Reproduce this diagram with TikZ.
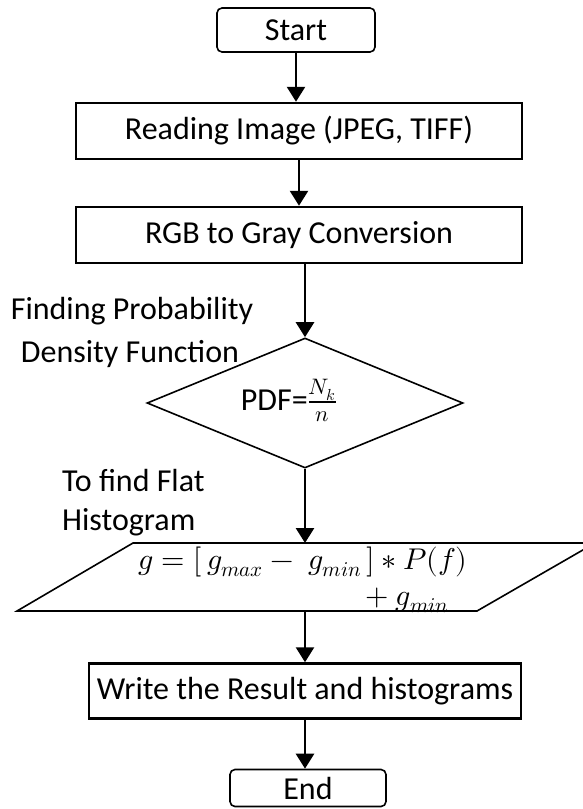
\documentclass[tikz,border=0pt]{standalone}
\usepackage{unicode-math}
\setmainfont{Carlito}
\setmathfont{Latin Modern Math}
\usetikzlibrary{shapes.geometric,arrows.meta}
\tikzset{
  box/.style={draw, line width=2.5pt, inner sep=0pt, font=\fontsize{32}{38}\selectfont},
  term/.style={box, line width=1.6pt, rounded corners=5pt},
  arr/.style={line width=2.6pt, -{Triangle[width=18pt,length=15pt]}},
  lbl/.style={font=\fontsize{32}{42}\selectfont, inner sep=0pt},
  thin/.style={draw, line width=1.6pt},
}
\begin{document}
\begin{tikzpicture}[x=1pt,y=-1pt]
\useasboundingbox (0,0) rectangle (582,809);
\node[term, minimum width=158pt, minimum height=44pt] (start) at (296,30) {Start};
\node[box, minimum width=446pt, minimum height=56pt] (read) at (299,131) {Reading Image (JPEG, TIFF)};
\node[box, minimum width=446pt, minimum height=56pt] (rgb) at (299,235) {RGB to Gray Conversion};
\node[thin, diamond, aspect=2.43, minimum width=316pt, minimum height=130pt, inner sep=0pt] (pdf) at (305,403) {};
\node[font=\fontsize{32}{38}\selectfont, inner sep=0pt, anchor=base] (pdftext) at (289,410) {PDF=$\frac{N_k}{n}$};
\node[lbl, anchor=base] (lab1) at (132,319) {Finding Probability};
\node[lbl, anchor=base] (lab2) at (130,362) {Density Function};
\node[lbl, anchor=base west] (lab3) at (62,491) {To find Flat};
\node[lbl, anchor=base west] (lab4) at (62,530) {Histogram};
\coordinate (pl) at (305,543);
\coordinate (pb) at (305,611);
\draw[line width=1.6pt, fill=white] (133,543) -- (595,543) -- (477,611) -- (17,611) -- cycle;
\node[inner sep=0pt, anchor=base, font=\fontsize{30}{36}\selectfont] (f1) at (303,569) {$g=[\,g_{max}-\;g_{min}\,]*P(f)$};
\node[inner sep=0pt, anchor=base east, font=\fontsize{30}{36}\selectfont] (f2) at (449,605) {${}+g_{min}$};
\node[box, minimum width=432pt, minimum height=55pt] (write) at (305,691) {Write the Result and histograms};
\node[term, minimum width=156pt, minimum height=37pt] (end) at (308,788) {End};
\draw[arr] (start.south) -- (start.south |- read.north);
\draw[arr] (read.south) -- (rgb.north);
\draw[arr] (rgb.south -| pdf.north) -- (pdf.north);
\draw[arr] (pdf.south) -- (pl);
\draw[arr] (pb) -- (write.north);
\draw[arr] (write.south) -- (write.south |- end.north);
\end{tikzpicture}
\end{document}
